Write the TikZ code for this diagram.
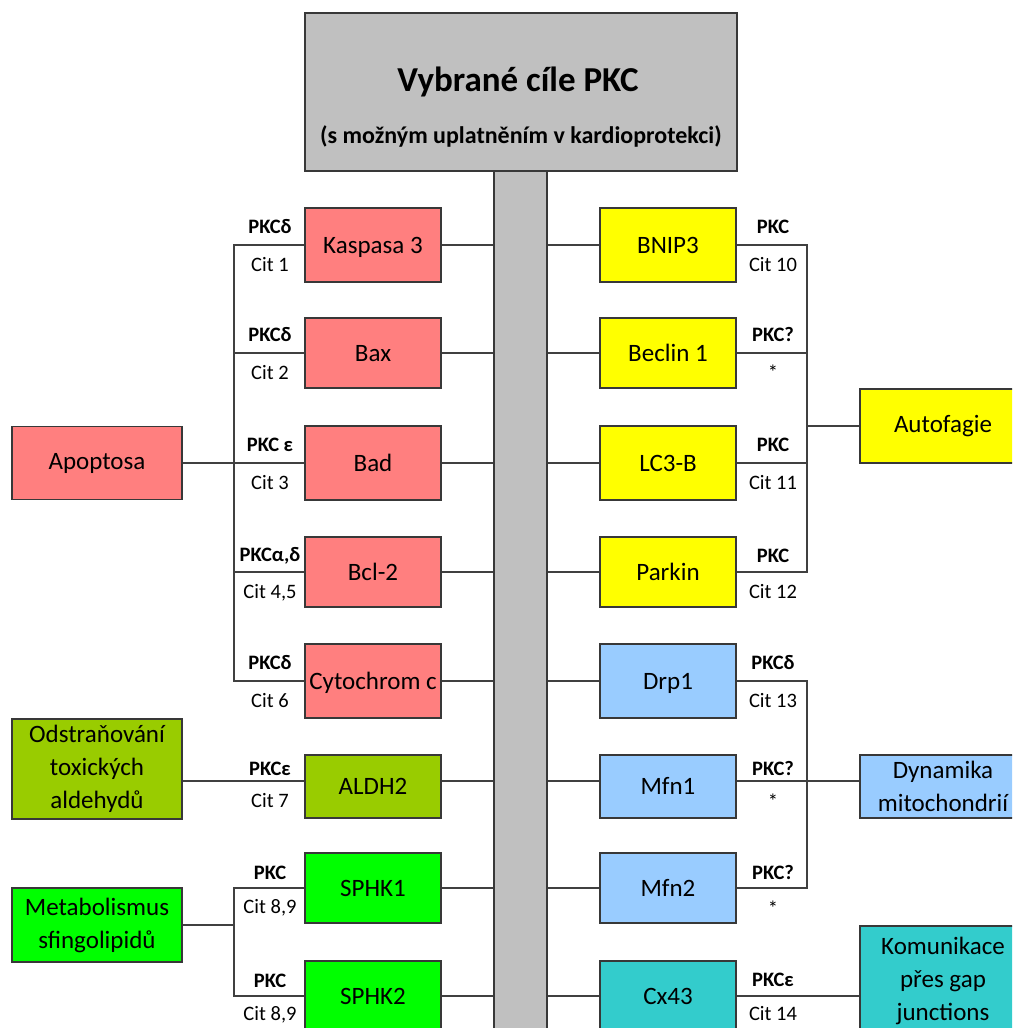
\documentclass[tikz,border=0pt]{standalone}
\usepackage{fontspec}
\setmainfont{Carlito}
\definecolor{cred}{HTML}{FF7F7F}
\definecolor{cyel}{HTML}{FFFF00}
\definecolor{coli}{HTML}{99CC00}
\definecolor{cgrn}{HTML}{00FF00}
\definecolor{cblu}{HTML}{99CCFF}
\definecolor{cteal}{HTML}{33CCCC}
\definecolor{cgray}{HTML}{C0C0C0}
\definecolor{cline}{HTML}{404040}
\definecolor{cbord}{HTML}{383838}
\begin{document}
\begin{tikzpicture}[x=1pt,y=-1pt,
  box/.style={draw=cbord,line width=1.4pt,minimum width=136pt,inner sep=0pt,
    font=\fontsize{25}{33}\selectfont,text height=16pt,text depth=0pt},
  bigbox/.style={draw=cbord,line width=1.4pt,minimum width=170pt,inner sep=0pt,
    font=\fontsize{25}{33}\selectfont,align=center},
  conn/.style={draw=cline,line width=1.3pt},
  lab/.style={font=\bfseries\fontsize{20.5}{24}\selectfont,anchor=base,inner sep=0pt},
  cit/.style={font=\fontsize{20.5}{24}\selectfont,anchor=base,inner sep=0pt}]
\useasboundingbox (0,0) rectangle (1012,1028);
\clip (0,0) rectangle (1012,1028);
\fill[white] (0,0) rectangle (1012,1028);

% central bar and title
\node[draw=cbord,fill=cgray,line width=1.4pt,minimum width=53pt,minimum height=900pt,anchor=north,inner sep=0pt] (bar) at (520.5,171) {};
\node[draw=cbord,fill=cgray,line width=1.4pt,minimum width=432pt,minimum height=158pt,inner sep=0pt] (title) at (521,92) {};
\node[font=\bfseries\fontsize{35}{40}\selectfont,anchor=base,inner sep=0pt] (t1) at (518,91) {Vybrané cíle PKC};
\node[font=\bfseries\fontsize{24}{28}\selectfont,anchor=base,inner sep=0pt] (t2) at (521,143) {(s možným uplatněním v kardioprotekci)};

\coordinate (brL) at (234,0);
\coordinate (brR) at (807,0);
\coordinate (yA) at (0,781);

% left boxes
\node[box,fill=cred,minimum height=74pt] (kasp) at (373,245) {Kaspasa 3};
\node[box,fill=cred,minimum height=70pt] (bax) at (373,353) {Bax};
\node[box,fill=cred,minimum height=74pt] (bad) at (373,463) {Bad};
\node[box,fill=cred,minimum height=70pt] (bcl) at (373,572) {Bcl-2};
\node[box,fill=cred,minimum height=74pt] (cyt) at (373,681) {Cytochrom c};
\node[box,fill=coli,minimum height=63pt] (aldh) at (373,786.5) {ALDH2};
\node[box,fill=cgrn,minimum height=70pt] (sp1) at (373,888) {SPHK1};
\node[box,fill=cgrn,minimum height=70pt] (sp2) at (373,996) {SPHK2};

\node[bigbox,fill=cred,minimum height=73pt] (apop) at (97,463) {Apoptosa};
\node[bigbox,fill=coli,minimum height=100pt] (odst) at (97,769) {Odstraňování\\toxických\\aldehydů};
\node[bigbox,fill=cgrn,minimum height=74pt] (meta) at (97,925) {Metabolismus\\sfingolipidů};

% right boxes
\node[box,fill=cyel,minimum height=74pt] (bnip) at (668,245) {BNIP3};
\node[box,fill=cyel,minimum height=70pt] (becl) at (668,353) {Beclin 1};
\node[box,fill=cyel,minimum height=74pt] (lc3) at (668,463) {LC3-B};
\node[box,fill=cyel,minimum height=70pt] (park) at (668,572) {Parkin};
\node[box,fill=cblu,minimum height=74pt] (drp) at (668,681) {Drp1};
\node[box,fill=cblu,minimum height=63pt] (mfn1) at (668,786.5) {Mfn1};
\node[box,fill=cblu,minimum height=70pt] (mfn2) at (668,888) {Mfn2};
\node[box,fill=cteal,minimum height=70pt] (cx) at (668,996) {Cx43};

\node[bigbox,fill=cyel,minimum height=74pt,minimum width=166pt] (auto) at (943,426) {Autofagie};
\node[bigbox,fill=cblu,minimum height=63pt,minimum width=166pt] (dyn) at (943,786.5) {Dynamika\\mitochondrií};
\node[bigbox,fill=cteal,minimum height=110pt,minimum width=166pt] (kom) at (943,981) {Komunikace\\přes gap\\junctions};

% connectors to bar
\foreach \n in {kasp,bax,bad,bcl,cyt,sp1,sp2}
  \draw[conn] (\n.east) -- (\n.east -| bar.west);
\foreach \n in {bnip,becl,lc3,park,drp,mfn2,cx}
  \draw[conn] (\n.west) -- (\n.west -| bar.east);
\draw[conn] (aldh.east |- yA) -- (bar.west |- yA);
\draw[conn] (mfn1.west |- yA) -- (bar.east |- yA);

% left brackets
\draw[conn] (kasp.west) -- (kasp.west -| brL) -- (cyt.west -| brL) -- (cyt.west);
\foreach \n in {bax,bad,bcl}
  \draw[conn] (\n.west) -- (\n.west -| brL);
\draw[conn] (apop.east) -- (apop.east -| brL);
\draw[conn] (odst.east |- yA) -- (aldh.west |- yA);
\draw[conn] (sp1.west) -- (sp1.west -| brL) -- (sp2.west -| brL) -- (sp2.west);
\draw[conn] (meta.east) -- (meta.east -| brL);

% right brackets
\draw[conn] (bnip.east) -- (bnip.east -| brR) -- (park.east -| brR) -- (park.east);
\foreach \n in {becl,lc3}
  \draw[conn] (\n.east) -- (\n.east -| brR);
\draw[conn] (auto.west) -- (auto.west -| brR);
\draw[conn] (drp.east) -- (drp.east -| brR) -- (mfn2.east -| brR) -- (mfn2.east);
\draw[conn] (mfn1.east |- yA) -- (dyn.west |- yA);
\draw[conn] (cx.east) -- (cx.east -| kom.west);

% left labels
\node[lab] (l1a) at (270,233) {PKCδ};
\node[cit] (l1b) at (270,271) {Cit 1};
\node[lab] (l2a) at (270,341) {PKCδ};
\node[cit] (l2b) at (270,379) {Cit 2};
\node[lab] (l3a) at (270,451) {PKC ε};
\node[cit] (l3b) at (270,489) {Cit 3};
\node[lab] (l4a) at (270,561) {PKCα,δ};
\node[cit] (l4b) at (270,598) {Cit 4,5};
\node[lab] (l5a) at (270,669) {PKCδ};
\node[cit] (l5b) at (270,707) {Cit 6};
\node[lab] (l6a) at (270,775) {PKCε};
\node[cit] (l6b) at (270,807) {Cit 7};
\node[lab] (l7a) at (270,879) {PKC};
\node[cit] (l7b) at (270,913) {Cit 8,9};
\node[lab] (l8a) at (270,987) {PKC};
\node[cit] (l8b) at (270,1020) {Cit 8,9};

% right labels
\node[lab] (r1a) at (773,233) {PKC};
\node[cit] (r1b) at (773,271) {Cit 10};
\node[lab] (r2a) at (773,341) {PKC?};
\node[cit] (r2b) at (773,379) {*};
\node[lab] (r3a) at (773,451) {PKC};
\node[cit] (r3b) at (773,489) {Cit 11};
\node[lab] (r4a) at (773,562) {PKC};
\node[cit] (r4b) at (773,598) {Cit 12};
\node[lab] (r5a) at (773,669) {PKCδ};
\node[cit] (r5b) at (773,707) {Cit 13};
\node[lab] (r6a) at (773,775) {PKC?};
\node[cit] (r6b) at (773,808) {*};
\node[lab] (r7a) at (773,879) {PKC?};
\node[cit] (r7b) at (773,915) {*};
\node[lab] (r8a) at (773,986) {PKCε};
\node[cit] (r8b) at (773,1020) {Cit 14};
\end{tikzpicture}
\end{document}
